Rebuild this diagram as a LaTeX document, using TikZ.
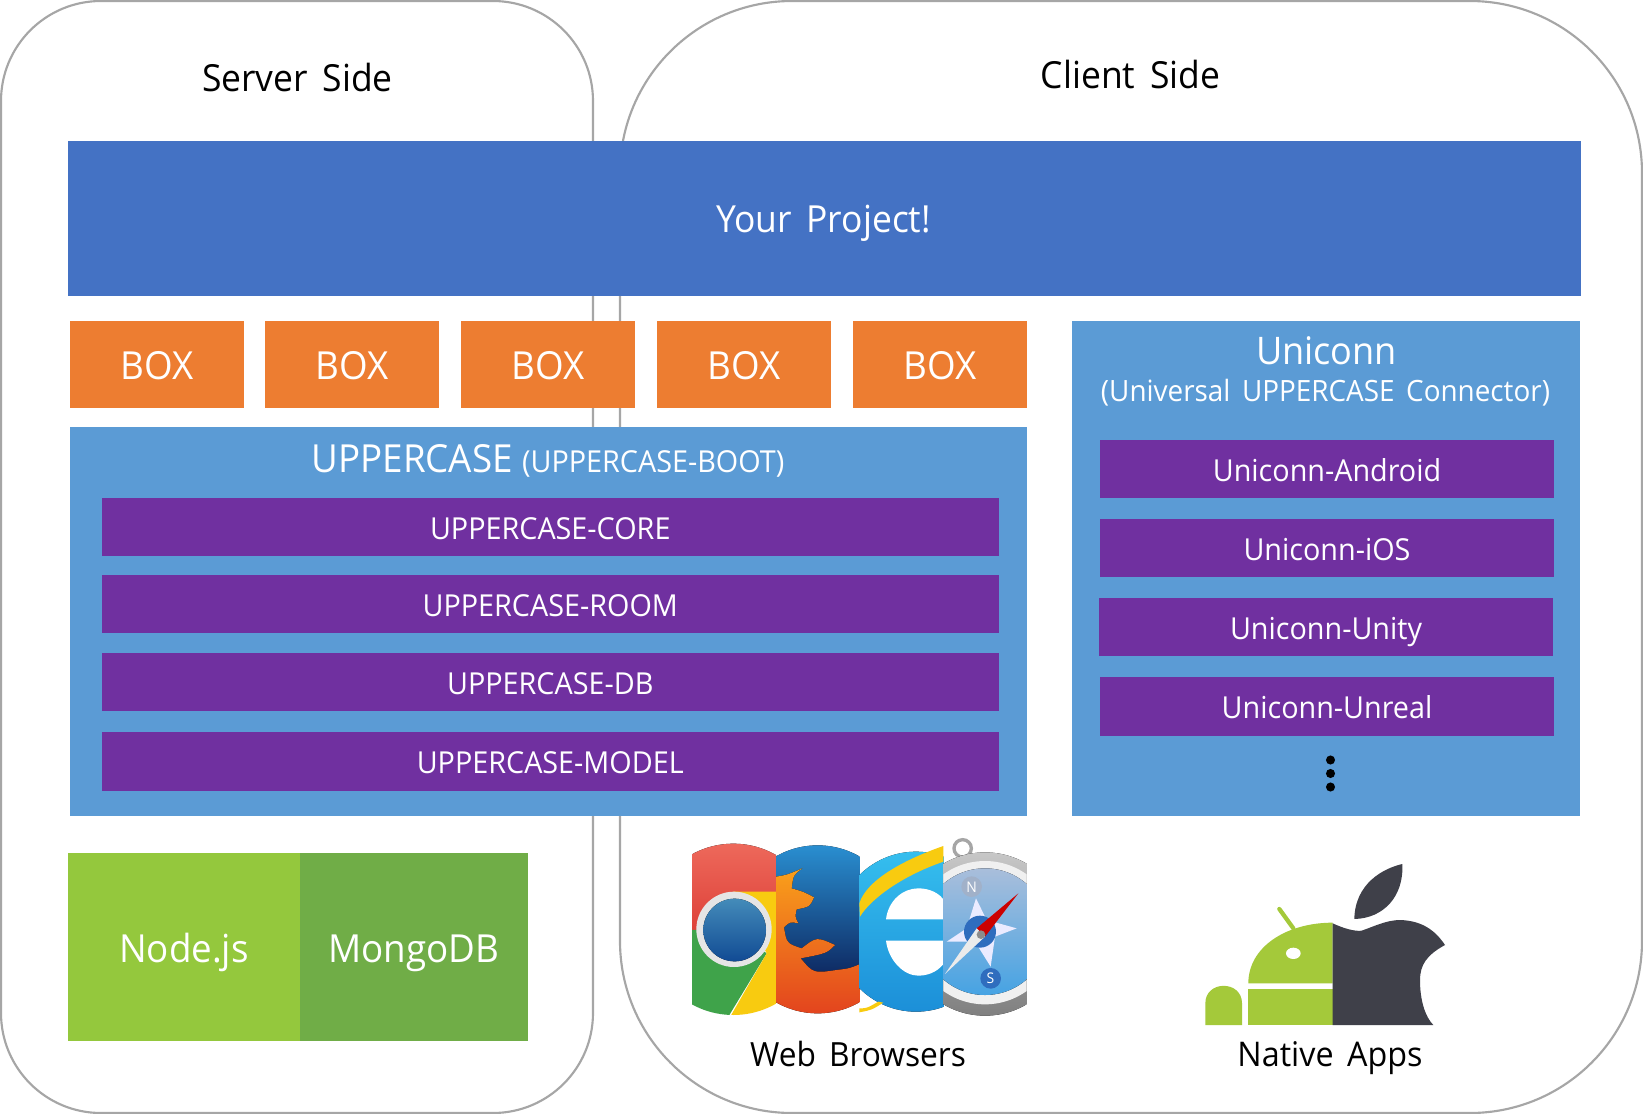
\documentclass[tikz,border=0pt]{standalone}
\usepackage{fontspec}
\setmainfont[FakeStretch=0.95,WordSpace=1.6]{Open Sans}
\usetikzlibrary{positioning}
\definecolor{edgegray}{HTML}{A6A6A6}
\definecolor{projblue}{HTML}{4472C4}
\definecolor{boxorange}{HTML}{ED7D31}
\definecolor{libblue}{HTML}{5B9BD5}
\definecolor{modpurple}{HTML}{7030A0}
\definecolor{nodegreen}{HTML}{94C83D}
\definecolor{mongogreen}{HTML}{70AD47}
\definecolor{droidgreen}{HTML}{A4C93A}
\definecolor{applegray}{HTML}{3F4049}
\definecolor{chromered}{HTML}{DD4038}
\definecolor{chromelight}{HTML}{EE6A5C}
\definecolor{chromegreen}{HTML}{3FA34A}
\definecolor{chromeyellow}{HTML}{F8CB10}
\definecolor{foxorange}{HTML}{F9A01B}
\definecolor{foxred}{HTML}{E2401E}
\definecolor{globetop}{HTML}{2A90D2}
\definecolor{globemid}{HTML}{114B94}
\definecolor{globelow}{HTML}{0E2A63}
\definecolor{ietop}{HTML}{35BEEE}
\definecolor{ielow}{HTML}{1C8FD8}
\definecolor{dialtop}{HTML}{A9BEDB}
\definecolor{dialmid}{HTML}{2F6DBE}
\definecolor{diallow}{HTML}{46A3E3}
\newcommand{\fs}[1]{\fontsize{#1}{#1}\selectfont}
\begin{document}
\begin{tikzpicture}[
			x=0.75pt, y=-0.75pt,
			wh/.style 2 args={minimum width=#1*0.75pt, minimum height=#2*0.75pt},
			panel/.style={rectangle, anchor=north west, draw=edgegray, line width=1.6pt, fill=white, inner sep=0pt, outer sep=0pt},
			block/.style={rectangle, anchor=north west, inner sep=0pt, outer sep=0pt, text=white},
			project/.style={block, fill=projblue, wh={1513}{154.5}},
			boxitem/.style={block, fill=boxorange, wh={174}{87}, font=\fs{29}, text height=22.2pt, text depth=0pt},
			library/.style={block, fill=libblue},
			module/.style={block, fill=modpurple, font=\fs{22.7}, text height=18.6pt, text depth=0pt},
			caption/.style={inner sep=0pt, text=black, font=\fs{25.5}},
			title/.style={inner sep=0pt, text=white},
			]
			\useasboundingbox (0,0) rectangle (1643,1114);
			
			\node[panel, wh={592}{1112}, rounded corners=75pt]   (server) at (1,1)   {};
			\node[panel, wh={1022}{1112}, rounded corners=129pt] (client) at (620,1) {};
			\node[caption, font=\fs{28}] (server_title) at (297.5,77.5) {Server Side};
			\node[caption, font=\fs{28}] (client_title) at (1130.5,74.5) {Client Side};
			
			\node[project] (project) at (68,141) {};
			\node[title, font=\fs{28}] (project_title) at (823.5,223) {Your Project!};
			
			\node[boxitem] (box_1) at (70,321)  {BOX};
			\node[boxitem] (box_2) at (265,321) {BOX};
			\node[boxitem] (box_3) at (461,321) {BOX};
			\node[boxitem] (box_4) at (657,321) {BOX};
			\node[boxitem] (box_5) at (853,321) {BOX};
			
			\node[library, wh={957}{389.5}] (uppercase) at (70,426.5) {};
			\node[title] (uppercase_title) at (548,461) {\fs{29}UPPERCASE\hspace{7pt}\fs{22.7}(UPPERCASE-BOOT)};
			\node[module, wh={896.5}{57.5}] (core)  at (102,498)   {UPPERCASE-CORE};
			\node[module, wh={896.5}{57.5}] (room)  at (102,575)   {UPPERCASE-ROOM};
			\node[module, wh={896.5}{57.5}] (db)    at (102,653)   {UPPERCASE-DB};
			\node[module, wh={896.5}{59}]   (model) at (102,731.5) {UPPERCASE-MODEL};
			
			\node[library, wh={508}{495}] (uniconn) at (1072,321) {};
			\node[title, font=\fs{28.5}] (uniconn_title) at (1326.5,351) {Uniconn};
			\node[title, font=\fs{22}]   (uniconn_sub)   at (1325.5,393) {(Universal UPPERCASE Connector)};
			\node[module, wh={454}{58}] (android) at (1100,440) {Uniconn-Android};
			\node[module, wh={454}{58}] (ios)     at (1100,519) {Uniconn-iOS};
			\node[module, wh={454}{58}] (unity)   at (1099,598) {Uniconn-Unity};
			\node[module, wh={454}{59}] (unreal)  at (1100,677) {Uniconn-Unreal};
			\foreach \y in {760,773.5,787} \fill[black] (1330.5,\y) circle (3.4pt);
			
			\node[block, fill=nodegreen, wh={232}{187.5}, font=\fs{29}, text height=22.9pt, text depth=0pt]  (nodejs)  at (68,853)  {Node.js};
			\node[block, fill=mongogreen, wh={228}{187.5}, font=\fs{29}, text height=22.9pt, text depth=0pt] (mongodb) at (300,853) {MongoDB};
			
			% browsers, coordinates as read off the crop
			\begin{scope}[shift={(670,820)}, scale=1/3]
			% chrome
			\begin{scope}
			\clip (66,0) rectangle (318,700);
			\clip (190,328) circle (257);
			\fill[top color=chromelight, bottom color=chromered] (0,60) rectangle (330,340);
			\fill[chromegreen] (60,330) -- (190,328) -- (290,400) -- (175,590) -- (60,590) -- cycle;
			\fill[chromeyellow] (190,215) -- (330,215) -- (330,600) -- (175,600) -- (290,400) -- cycle;
			\fill[black!10] (192,328) circle (113);
			\fill[top color=globetop!70!gray, bottom color=globemid] (194,330) circle (94);
			\end{scope}
			% firefox
			\begin{scope}
			\clip (318,0) rectangle (568,700);
			\clip (443,328) circle (252);
			\fill[top color=globetop, middle color=globemid, bottom color=globelow] (310,70) rectangle (580,460);
			\fill[top color=foxorange, bottom color=foxred]
				(318,170) .. controls (350,165) .. (397,145) .. controls (370,165) .. (365,205)
				.. controls (400,215) .. (432,232) .. controls (420,260) .. (380,268)
				.. controls (375,290) .. (385,310) .. controls (360,305) .. (342,322)
				.. controls (350,370) .. (395,385) .. controls (440,350) .. (495,375)
				.. controls (470,400) .. (392,415) .. controls (430,460) .. (500,450)
				.. controls (540,445) .. (575,430) -- (575,600) -- (318,600) -- cycle;
			\end{scope}
			% ie
			\begin{scope}
			\clip (568,0) rectangle (820,700);
			\fill[top color=ietop, bottom color=ielow] (738,335) circle (240);
			\fill[white] (648,298) .. controls (655,240) and (700,205) .. (745,205) .. controls (780,205) and (810,220) .. (825,245) -- (825,298) -- cycle;
			\fill[white] (648,362) -- (825,362) -- (825,425) .. controls (810,450) and (780,467) .. (745,467) .. controls (700,467) and (655,420) .. (648,362) -- cycle;
			\fill[chromeyellow] (820,78) .. controls (700,120) and (590,180) .. (568,250) -- (570,290) .. controls (600,240) and (690,170) .. (820,125) -- cycle;
			\fill[chromeyellow] (568,565) .. controls (590,565) .. (625,545) -- (640,548) .. controls (605,570) .. (568,577) -- cycle;
			\end{scope}
			% safari
			\begin{scope}
			\clip (820,0) rectangle (1070,700);
			\draw[black!35, line width=2.5pt] (878,85) circle (26);
			\fill[top color=black!22, bottom color=black!50] (945,342) circle (245);
			\fill[black!6] (945,338) circle (215);
			\fill[top color=dialtop, middle color=dialmid, bottom color=diallow] (945,335) circle (190);
			\fill[white!92!blue] (918,235) -- (950,300) -- (1040,325) -- (975,350) -- (962,440) -- (915,365) -- (830,365) -- (890,325) -- cycle;
			\fill[dialmid] (930,335) circle (48);
			\fill[dialmid] (962,475) circle (31);
			\fill[dialtop!80!gray] (905,200) circle (31);
			\fill[red!80!black] (1045,220) -- (945,350) -- (920,325) -- cycle;
			\fill[black!8] (825,462) -- (945,350) -- (920,325) -- cycle;
			\fill[black!45] (933,344) circle (13);
			\end{scope}
			\end{scope}
			\node[inner sep=0pt, text=white, font=\rmfamily\fs{11}] (compass_s) at (990.5,978) {S};
			\node[inner sep=0pt, text=white, font=\rmfamily\fs{11}] (compass_n) at (971.5,887) {N};
			\node[caption, font=\fs{25}] (browsers_title) at (858,1054) {Web Browsers};
			
			% android and apple
			\begin{scope}[shift={(1180,840)}, scale=1/3]
			\draw[droidgreen, line width=3.2pt, line cap=round] (298,207) -- (340,265);
			\fill[droidgreen] (205,430) .. controls (205,320) and (320,248) .. (458,248) -- (458,430) -- cycle;
			\fill[white] (340,340) ellipse (22 and 17);
			\fill[droidgreen] (205,446) rectangle (458,555);
			\fill[droidgreen] (76,555) -- (76,490) .. controls (76,420) and (186,420) .. (186,490) -- (186,555) -- cycle;
			\fill[applegray] (458,250) .. controls (490,265) and (525,275) .. (545,272) .. controls (580,260) and (620,240) .. (660,240)
				.. controls (725,242) and (765,270) .. (795,315) .. controls (740,345) and (720,375) .. (720,420)
				.. controls (720,480) and (735,530) .. (760,555) -- (458,555) -- cycle;
			\fill[applegray] (523,237) .. controls (525,130) and (610,85) .. (667,72) .. controls (672,170) and (610,235) .. (523,237) -- cycle;
			\end{scope}
			\node[caption, text height=18.5pt, text depth=0pt] (native_title) at (1330,1054) {Native Apps};
			
			\end{tikzpicture}
\end{document}
